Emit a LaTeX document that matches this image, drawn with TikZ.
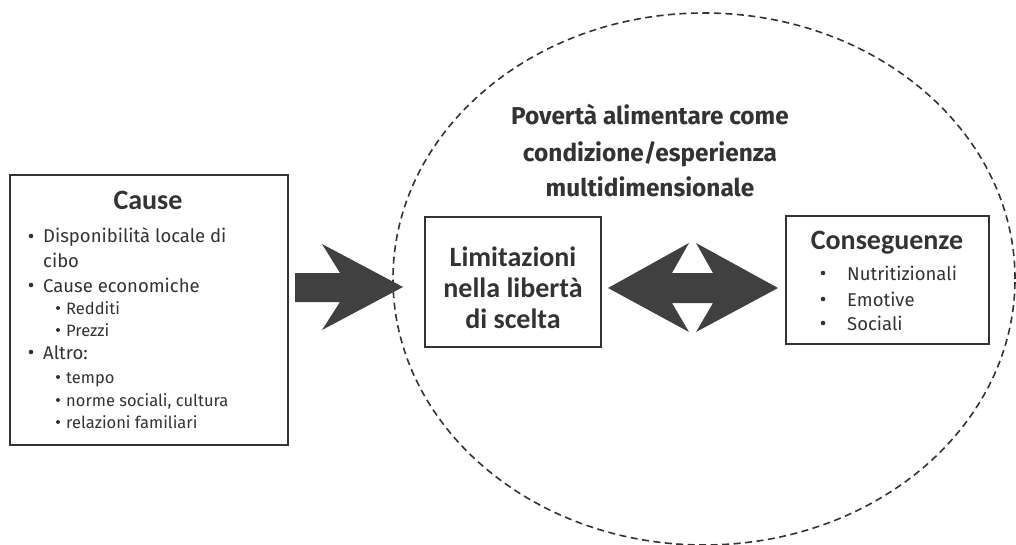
\documentclass[tikz,border=0pt]{standalone}
\usepackage{fontspec}
\setmainfont{Fira Sans}
\newfontfamily\calib{Carlito}
\definecolor{ink}{HTML}{333333}
\definecolor{arrowfill}{HTML}{404040}
\tikzset{
  box/.style={draw=ink, line width=1.6pt, fill=white, inner sep=0pt},
  ring/.style={draw=ink, line width=1.6pt, dash pattern=on 7pt off 4.5pt, ellipse, inner sep=0pt},
  blockarrow/.style={fill=arrowfill, draw=none},
  head/.style={text=ink, font=\calib\bfseries\fontsize{28}{30}\selectfont, inner sep=0pt},
  title/.style={text=ink, font=\bfseries\fontsize{24.4}{28}\selectfont, inner sep=0pt},
  item/.style={text=ink, font=\fontsize{18.5}{20}\selectfont, inner sep=0pt, anchor=base west},
  subitem/.style={text=ink, font=\fontsize{16.5}{18}\selectfont, inner sep=0pt, anchor=base west},
  bulA/.style={fill=ink, draw=none, circle, inner sep=0pt, minimum size=4.6pt},
  bulB/.style={fill=ink, draw=none, circle, inner sep=0pt, minimum size=4pt},
}
\usetikzlibrary{shapes.geometric}
\begin{document}
\begin{tikzpicture}[x=1pt,y=-1pt]
\useasboundingbox (0,0) rectangle (1016,545);
% dashed ellipse
\node[ring, minimum width=622pt, minimum height=532pt] (ring) at (704,279) {};
% title
\node[title, anchor=base] (t1) at (650,125) {Povertà alimentare come};
\node[title, anchor=base] (t2) at (650,162) {condizione/esperienza};
\node[title, anchor=base] (t3) at (650,197) {multidimensionale};
% Cause box
\node[box, minimum width=278pt, minimum height=270pt] (cause) at (149,310) {};
\node[head, anchor=base] (causeT) at (148,210) {Cause};
\node[bulA] at (31,236) {}; \node[item] (c1) at (43,243) {Disponibilità locale di};
\node[item] (c1b) at (43,267) {cibo};
\node[bulA] at (31,285) {}; \node[item] (c2) at (43,292) {Cause economiche};
\node[bulB] at (58,308) {}; \node[subitem] (c21) at (66,314) {Redditi};
\node[bulB] at (58,330) {}; \node[subitem] (c22) at (66,336) {Prezzi};
\node[bulA] at (31,352) {}; \node[item] (c3) at (43,359) {Altro:};
\node[bulB] at (58,377) {}; \node[subitem] (c31) at (66,383) {tempo};
\node[bulB] at (58,400) {}; \node[subitem] (c32) at (66,406) {norme sociali, cultura};
\node[bulB] at (58,422) {}; \node[subitem] (c33) at (66,428) {relazioni familiari};
% Limitazioni box
\node[box, minimum width=176pt, minimum height=130pt] (lim) at (513,282) {};
\node[head, anchor=base] at (513,266) {Limitazioni};
\node[head, anchor=base] at (513,297) {nella libertà};
\node[head, anchor=base] at (513,328) {di scelta};
% Conseguenze box
\node[box, minimum width=203pt, minimum height=128pt] (cons) at (887.5,280) {};
\node[head, anchor=base] (consT) at (887,249) {Conseguenze};
\node[bulA] at (823,273) {}; \node[item] at (847,280) {Nutritizionali};
\node[bulA] at (823,299) {}; \node[item] at (847,306) {Emotive};
\node[bulA] at (823,323) {}; \node[item] at (847,330) {Sociali};
% block arrow: Cause -> circle
\fill[blockarrow] (295,273) -- (340,273) -- (322,244) -- (403,287) -- (322,330) -- (340,302) -- (295,302) -- cycle;
% double arrow between Limitazioni and Conseguenze
\fill[blockarrow] (608,288) -- (689,243) -- (672,273) -- (713,273) -- (696,243) -- (778,288)
  -- (696,332) -- (713,303) -- (672,303) -- (689,332) -- cycle;
\end{tikzpicture}
\end{document}
